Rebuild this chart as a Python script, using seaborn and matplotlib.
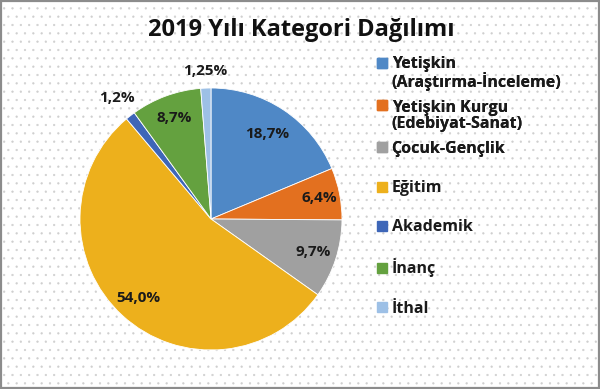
import matplotlib
matplotlib.use("Agg")
import matplotlib.pyplot as plt
import seaborn as sns
from matplotlib.patches import Rectangle
from matplotlib.lines import Line2D
from matplotlib.legend_handler import HandlerLine2D
import numpy as np

categories = ["Yetişkin\n(Araştırma-İnceleme)", "Yetişkin Kurgu\n(Edebiyat-Sanat)",
              "Çocuk-Gençlik", "Eğitim", "Akademik", "İnanç", "İthal"]
values = [18.7, 6.4, 9.7, 54.0, 1.2, 8.7, 1.25]
value_labels = ["18,7%", "6,4%", "9,7%", "54,0%", "1,2%", "8,7%", "1,25%"]
colors = ["#4F88C6", "#E3701F", "#A0A0A0", "#EDB01C", "#3E66B8", "#64A13F", "#9DC0E6"]
label_dist = [0.78, 0.84, 0.82, 0.82, 1.17, 0.82, 1.13]

sns.set_theme(style="white")
plt.rcParams['font.family'] = ['Open Sans', 'DejaVu Sans']
plt.rcParams['hatch.linewidth'] = 0.4
plt.rcParams['hatch.color'] = "#CFCFCF"

fig = plt.figure(figsize=(6.0, 3.89), dpi=100)
fig.patch.set_facecolor("white")

# dotted background
bg = fig.add_axes([0, 0, 1, 1])
bg.set_xlim(0, 1); bg.set_ylim(0, 1); bg.axis("off")
bg.add_patch(Rectangle((0, 0), 1, 1, facecolor="white", edgecolor="#CFCFCF",
                       hatch="..", linewidth=0))
bg.add_patch(Rectangle((0.002, 0.003), 0.996, 0.994, facecolor="none",
                       edgecolor="#8C8C8C", linewidth=1.6))

ax = fig.add_axes([0.1333, 0.1003, 0.4367, 0.6735])
wedges, _ = ax.pie(values, colors=colors, startangle=90, counterclock=False,
                   radius=1.0, wedgeprops=dict(linewidth=0.6, edgecolor="white"))
for w, lab, d in zip(wedges, value_labels, label_dist):
    ang = np.deg2rad((w.theta1 + w.theta2) / 2)
    ax.text(d * np.cos(ang), d * np.sin(ang), lab, ha="center", va="center",
            fontsize=11, fontweight="bold", color="#1a1a1a")
ax.set_xlim(-1, 1); ax.set_ylim(-1, 1)
ax.set_aspect("equal")
ax.axis("off")

fig.text(0.502, 0.922, "2019 Yılı Kategori Dağılımı", ha="center", va="center",
         fontsize=17, fontweight="bold", color="#111111")


class ShiftedHandler(HandlerLine2D):
    def __init__(self, dy=0, **kw):
        super().__init__(**kw)
        self.dy = dy

    def create_artists(self, legend, orig_handle, xdescent, ydescent, width,
                       height, fontsize, trans):
        arts = super().create_artists(legend, orig_handle, xdescent, ydescent,
                                      width, height, fontsize, trans)
        for a in arts:
            a.set_ydata(np.asarray(a.get_ydata()) + self.dy)
        return arts


handles = [Line2D([], [], marker="s", linestyle="none", markersize=6.5,
                  markerfacecolor=c, markeredgecolor=c) for c in colors]

fs = 11.5
hmap_two = {h: ShiftedHandler(dy=8.0) for h in handles[:2]}
legA = fig.legend(handles[:3], categories[:3], loc="upper left",
                  bbox_to_anchor=(0.63, 0.856), frameon=False, fontsize=fs,
                  handlelength=0.55, handletextpad=0.3, labelspacing=0.56,
                  borderaxespad=0, borderpad=0, handler_map=hmap_two)
legB = fig.legend(handles[3:], categories[3:], loc="upper left",
                  bbox_to_anchor=(0.63, 0.537), frameon=False, fontsize=fs,
                  handlelength=0.55, handletextpad=0.3, labelspacing=1.45,
                  borderaxespad=0, borderpad=0)
fig.add_artist(legA)
for leg in (legA, legB):
    for t in leg.get_texts():
        t.set_fontweight("bold")
        t.set_color("#1a1a1a")
        t.set_linespacing(1.0)

fig.savefig("out.png", dpi=100)
